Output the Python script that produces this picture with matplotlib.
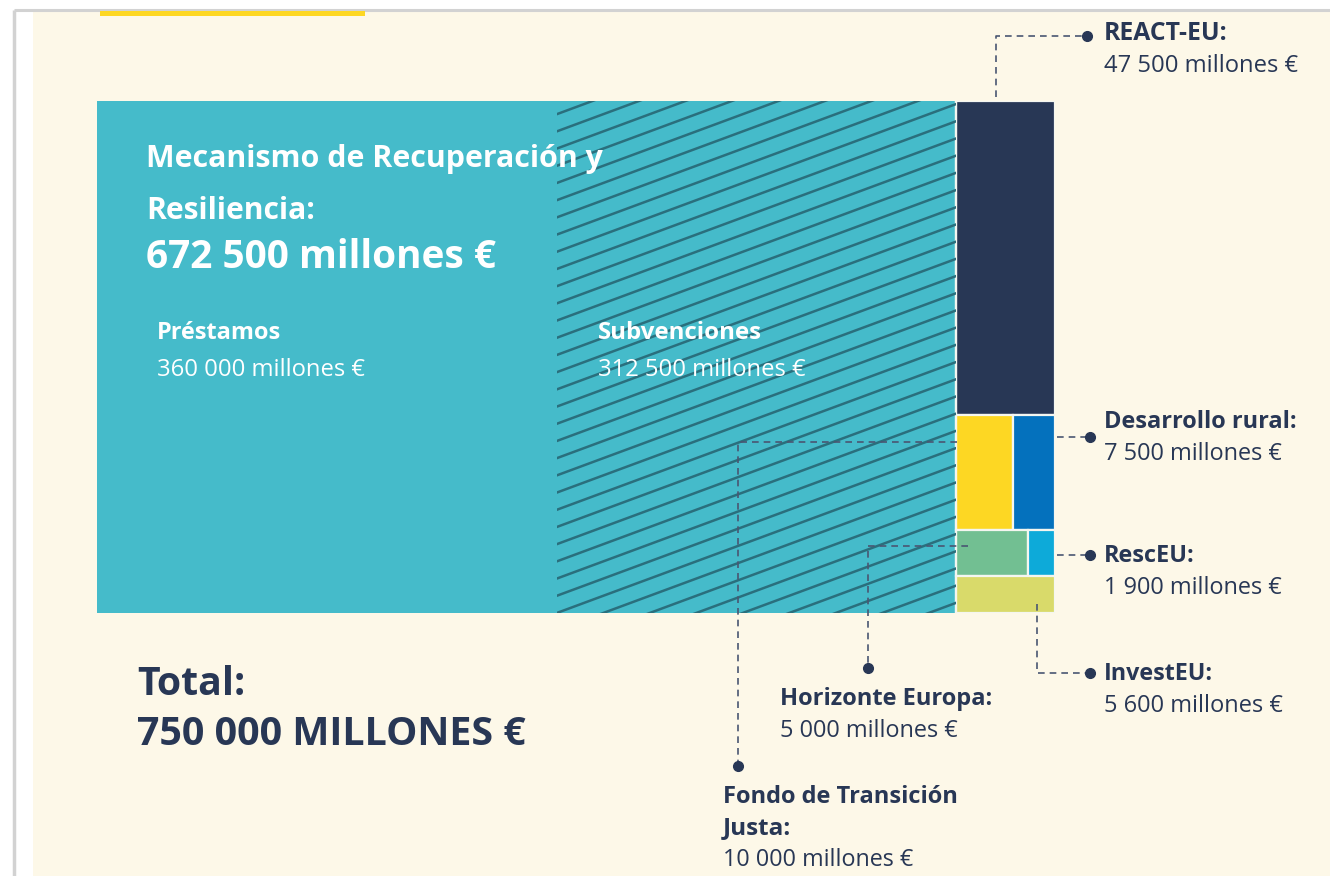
import matplotlib
matplotlib.use("Agg")
import matplotlib.pyplot as plt
from matplotlib.patches import Rectangle
import numpy as np

# ---------------- data (millones €) ----------------
total = 750000
mrr_name = "Mecanismo de Recuperación y\nResiliencia:"
mrr_parts = ["Préstamos", "Subvenciones"]
mrr_values = [360000, 312500]
other_names = ["REACT-EU", "Fondo de Transición\nJusta", "Desarrollo rural",
               "Horizonte Europa", "RescEU", "InvestEU"]
other_values = [47500, 10000, 7500, 5000, 1900, 5600]
# rows of the right-hand column (indices into other_*)
rows = [[0], [1, 2], [3, 4], [5]]

def fmt(v):
    return f"{v:,}".replace(",", " ")

# ---------------- colours ----------------
CREAM = "#FDF8E8"
TEAL = "#45BBCA"
NAVY = "#283755"
HATCH = "#2A6F7D"
colors = {0: "#283755", 1: "#FDD723", 2: "#0471BD", 3: "#72BF92", 4: "#0DAAD9", 5: "#D9DA6A"}
LINE = "#4A5672"

W, H = 1330, 876
fig = plt.figure(figsize=(W / 100, H / 100), dpi=100)
fig.patch.set_facecolor("white")

def pixel_axes(z):
    a = fig.add_axes([0, 0, 1, 1], zorder=z)
    a.set_xlim(0, W)
    a.set_ylim(H, 0)
    a.axis("off")
    a.patch.set_alpha(0)
    return a

# background
bg = pixel_axes(0)
bg.add_patch(Rectangle((33, 11), W - 33, H - 11, facecolor=CREAM, edgecolor="none", zorder=0))
bg.plot([14, W], [10, 10], color="#D2D2D2", lw=2.2, zorder=1, solid_capstyle="butt")
bg.plot([14, 14], [10, H], color="#D2D2D2", lw=2.5, zorder=1, solid_capstyle="butt")
bg.add_patch(Rectangle((100, 11), 265, 5, facecolor="#FDD723", edgecolor="none", zorder=1))

# block axes: x in millones €, y in fraction of height
bx0, by0, bw, bh = 97, 101, 958, 512
ax = fig.add_axes([bx0 / W, 1 - (by0 + bh) / H, bw / W, bh / H], zorder=1)
ax.set_xlim(0, total)
ax.set_ylim(1, 0)
ax.axis("off")
ax.patch.set_alpha(0)

x = 0
mrr_patches = []
for v in mrr_values:
    p = Rectangle((x, 0), v, 1, facecolor=TEAL, edgecolor="none", zorder=2)
    ax.add_patch(p)
    mrr_patches.append(p)
    x += v
mrr_total = x

col_w = total - mrr_total
col_sum = sum(other_values)
y = 0
for row in rows:
    rv = sum(other_values[i] for i in row)
    rh = rv / col_sum
    xx = mrr_total
    for i in row:
        w = other_values[i] / rv * col_w
        ax.add_patch(Rectangle((xx, y), w, rh, facecolor=colors[i],
                               edgecolor="#F4F6F0", lw=1.6, zorder=3))
        xx += w
    y += rh
ax.plot([mrr_total, mrr_total], [0, 1], color="#F4F6F0", lw=1.6, zorder=4)

# overlay for hatching, connectors and text
ov = pixel_axes(2)

slope = 0.37
spacing = 17.2
for c in np.arange(-200, 900, spacing):
    xs = np.array([540, 970])
    ys = c - slope * (xs - 540) + 200
    ln, = ov.plot(xs, ys, color=HATCH, lw=1.8, zorder=5)
    ln.set_clip_path(mrr_patches[1])

FONT = "Open Sans"
renderer = fig.canvas.get_renderer()

def put(xp, yp, s, width, weight="bold", color=NAVY, size0=20):
    t = ov.text(xp, yp, s, fontsize=size0, fontweight=weight, color=color,
                family=FONT, ha="left", va="baseline", zorder=10)
    wpx = t.get_window_extent(renderer).width
    t.set_fontsize(size0 * width / wpx)
    return t

WHITE = "white"
l1, l2 = mrr_name.split("\n")
put(146, 167, l1, 457, color=WHITE)
put(146, 219, l2, 169, color=WHITE)
put(146, 268, fmt(mrr_total) + " millones €", 350, color=WHITE)
put(157, 339, mrr_parts[0], 124, color=WHITE)
put(157, 376, fmt(mrr_values[0]) + " millones €", 207, weight="normal", color=WHITE)
put(598, 339, mrr_parts[1], 164, color=WHITE)
put(598, 376, fmt(mrr_values[1]) + " millones €", 207, weight="normal", color=WHITE)

put(137, 695, "Total:", 108)
put(137, 745, fmt(total) + " MILLONES €", 390)

def label(xp, yb, name, value, wname, wval, gap=32):
    lines = name.split("\n")
    for k, ln_ in enumerate(lines):
        put(xp, yb + k * gap, ln_ + (":" if k == len(lines) - 1 else ""),
            wname[k] if isinstance(wname, list) else wname)
    put(xp, yb + len(lines) * gap, fmt(value) + " millones €", wval, weight="normal")

label(1104, 40, other_names[0], other_values[0], 124, 193)
label(1104, 428, other_names[2], other_values[2], 192, 178)
label(1104, 562, other_names[4], other_values[4], 91, 178)
label(1104, 680, other_names[5], other_values[5], 109, 179)
label(780, 705, other_names[3], other_values[3], 213, 178)
label(723, 803, other_names[1], other_values[1], [235, 68], 190, gap=31.5)

dash = dict(color=LINE, lw=1.2, ls=(0, (4, 3)), zorder=8)
def conn(xs, ys, dot):
    ov.plot(xs, ys, **dash)
    ov.plot([dot[0]], [dot[1]], "o", color=NAVY, ms=7, zorder=9)

conn([996, 996, 1086], [97, 36, 36], (1087, 36))
conn([1057, 1088], [437, 437], (1090, 437))
conn([1057, 1088], [555, 555], (1090, 555))
conn([1037, 1037, 1088], [604, 673, 673], (1090, 673))
conn([968, 868, 868], [546, 546, 666], (868, 668))
conn([957, 738, 738], [442, 442, 764], (738, 766))

fig.savefig("out.png", dpi=100, facecolor=fig.get_facecolor())
